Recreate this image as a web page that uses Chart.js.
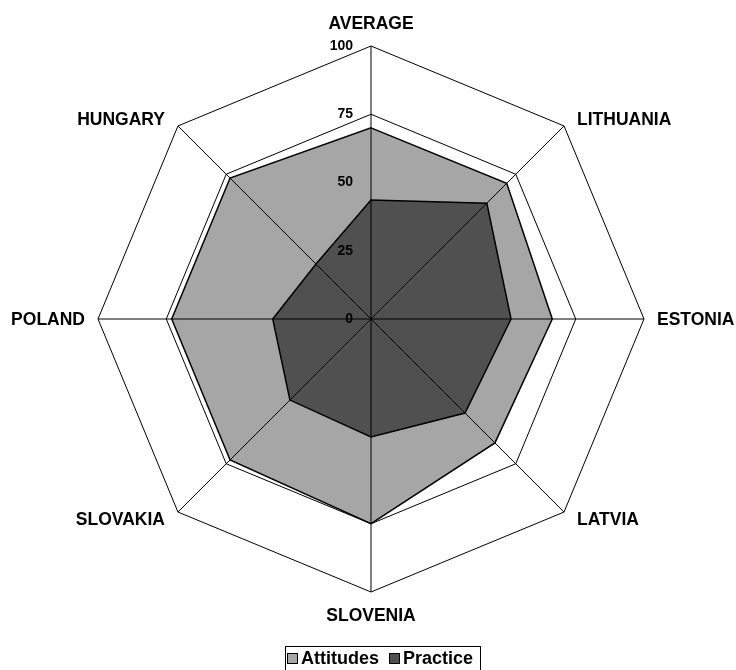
<!DOCTYPE html>
<html>
<head>
<meta charset="utf-8">
<script src="https://cdn.jsdelivr.net/npm/chart.js@4.4.1/dist/chart.umd.min.js"></script>
<style>
  body { margin: 0; background: #fff; overflow: hidden; }
  #wrap { position: relative; width: 736px; height: 670px; }
  #legend {
    position: absolute; left: 285px; top: 646px; width: 196px; height: 30px;
    border: 1px solid #000; box-sizing: border-box;
    display: flex; align-items: flex-start; padding: 0 0 0 1px;
    font: bold 18px "Liberation Sans", Arial, sans-serif; color: #000;
  }
  #legend .item { display: flex; align-items: center; margin-right: 10px; line-height: 22px; }
  #legend .box { width: 9px; height: 9px; border: 1px solid #000; margin-right: 3px; }
</style>
</head>
<body>
<div id="wrap">
  <canvas id="radar" width="736" height="670"></canvas>
  <div id="legend"></div>
</div>
<script>
// categories and values
const countries = ['AVERAGE', 'LITHUANIA', 'ESTONIA', 'LATVIA', 'SLOVENIA', 'SLOVAKIA', 'POLAND', 'HUNGARY'];
const attitudes = [70, 70.3, 66.4, 64.2, 75, 73, 73, 73];
const practice = [43.6, 60, 51.3, 48.7, 43.2, 42, 36, 28.5];
const tickValues = [0, 25, 50, 75, 100];
const seriesNames = ['Attitudes', 'Practice'];
const seriesColors = ['#a6a6a6', '#505050'];

const FONT = '"Liberation Sans", Arial, sans-serif';

// spokes, tick labels and category labels go on top of the filled areas
const overlay = {
    id: 'overlay',
    afterDatasetsDraw(chart) {
        const r = chart.scales.r;
        const ctx = chart.ctx;
        ctx.save();

        // spokes
        ctx.strokeStyle = '#000';
        ctx.lineWidth = 1;
        countries.forEach(function (c, i) {
            let p = r.getPointPositionForValue(i, r.max);
            ctx.beginPath();
            ctx.moveTo(r.xCenter, r.yCenter);
            ctx.lineTo(p.x, p.y);
            ctx.stroke();
        });

        // tick labels, left of the top spoke
        ctx.fillStyle = '#000';
        ctx.font = 'bold 14px ' + FONT;
        ctx.textAlign = 'right';
        ctx.textBaseline = 'middle';
        tickValues.forEach(function (v) {
            let y = r.yCenter - r.getDistanceFromCenterForValue(v);
            ctx.fillText(String(v), r.xCenter - 18, y);
        });

        // category labels
        ctx.font = 'bold 17.5px ' + FONT;
        countries.forEach(function (c, i) {
            let p = r.getPointPositionForValue(i, r.max);
            let cos = Math.cos(p.angle), sin = Math.sin(p.angle);
            let vertical = Math.abs(sin) > 0.9;
            ctx.textAlign = cos > 0.1 ? 'left' : (cos < -0.1 ? 'right' : 'center');
            let x = p.x + (vertical ? 0 : 13 * Math.sign(cos));
            let y = p.y + (vertical ? 23 * Math.sign(sin) : 7 * sin / Math.abs(sin || 1) * (Math.abs(sin) > 0.1 ? 1 : 0));
            ctx.fillText(c, x, y + 1);
        });
        ctx.restore();
    }
};

let ctx = document.getElementById('radar');
let radarChart = new Chart(ctx, {
    type: 'radar',
    data: {
        labels: countries,
        datasets: [
            {
                label: seriesNames[0],
                data: attitudes,
                backgroundColor: seriesColors[0],
                borderColor: '#000',
                borderWidth: 1.5,
                pointRadius: 0,
                fill: 'origin',
                order: 1
            },
            {
                label: seriesNames[1],
                data: practice,
                backgroundColor: seriesColors[1],
                borderColor: '#000',
                borderWidth: 1.5,
                pointRadius: 0,
                fill: 'origin',
                order: 0
            }
        ]
    },
    options: {
        responsive: false,
        animation: false,
        devicePixelRatio: 1,
        layout: { padding: { left: 98, right: 92, top: 46, bottom: 78 } },
        plugins: {
            legend: { display: false },
            tooltip: { enabled: false }
        },
        elements: { line: { tension: 0 } },
        scales: {
            r: {
                min: 0,
                max: 100,
                ticks: { display: false, stepSize: 25 },
                grid: { circular: false, color: '#000', lineWidth: 1 },
                angleLines: { display: false },
                pointLabels: { display: false }
            }
        }
    },
    plugins: [overlay]
});

// legend
let legend = document.getElementById('legend');
seriesNames.forEach(function (name, i) {
    legend.insertAdjacentHTML('beforeend',
        '<div class="item"><div class="box" style="background:' + seriesColors[i] + '"></div>' + name + '</div>');
});
</script>
</body>
</html>
